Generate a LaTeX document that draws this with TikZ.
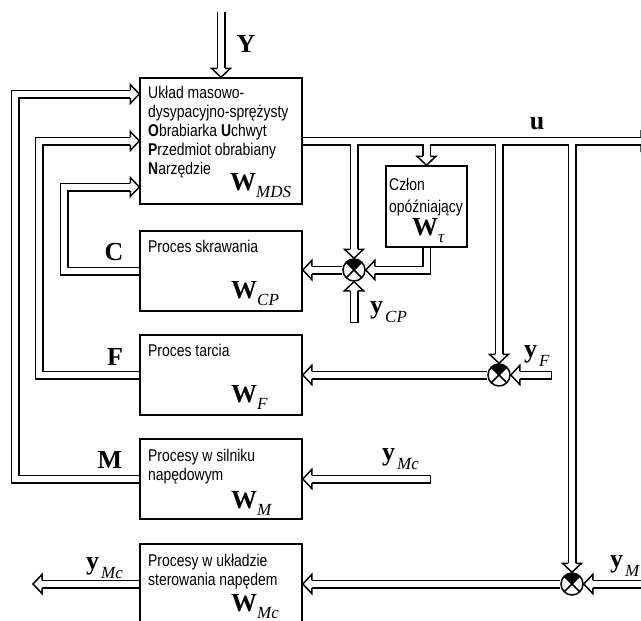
\documentclass[tikz,border=0pt]{standalone}
\usepackage{fontspec}
\setmainfont{Liberation Serif}
\newfontfamily\boxfont[FakeStretch=0.82]{Liberation Sans}
\pgfdeclarelayer{blk}
\pgfsetlayers{blk,main}
\newcommand\bW[1]{{\fontsize{26}{26}\selectfont\bfseries W}\raisebox{-7pt}{\fontsize{17}{17}\selectfont\itshape #1}}
\newcommand\bY[1]{{\fontsize{26}{26}\selectfont\bfseries y}\hspace{2pt}\raisebox{-9pt}{\fontsize{17}{17}\selectfont\itshape #1}}
% hollow (double) connector: black pass on a lower layer, white pass on main
\newcommand\hp[3]{%
  \begin{pgfonlayer}{blk}\draw[line width=9,line join=miter,#1] #3;\end{pgfonlayer}%
  \draw[line width=6,white,line join=miter,#1,#2] #3;}
\tikzset{
  pbox/.style={draw,line width=1.5,minimum width=162,minimum height=80,inner sep=0},
  txt/.style={font=\boxfont\fontsize{17}{19}\selectfont,inner sep=0,align=left},
  lbl/.style={font=\fontsize{26}{26}\selectfont\bfseries,inner sep=0},
  sublbl/.style={anchor=base west,inner sep=0},
  sumj/.style={circle,draw,line width=1.5,minimum size=22,inner sep=0,fill=white,
    path picture={
      \fill[black] (path picture bounding box.center) -- +(45:20) -- +(90:28) -- +(135:20) -- cycle;
      \draw[line width=1.5] (path picture bounding box.south west) -- (path picture bounding box.north east)
                            (path picture bounding box.north west) -- (path picture bounding box.south east);
    }},
  hh/.pic={\filldraw[fill=white,draw=black,line width=1.5,line join=miter]
     (-9,3.75) -- (-9,9.5) -- (0,0) -- (-9,-9.5) -- (-9,-3.75);}
}
\begin{document}
\begin{tikzpicture}[x=1pt,y=1pt]
\useasboundingbox (0,0) rectangle (641,-621);
\clip (0,0) rectangle (641,-621);
% blocks
\node[pbox,minimum height=126] (mds) at (221,-141) {};
\node[pbox] (cp) at (221,-271) {};
\node[pbox] (fr) at (221,-375) {};
\node[pbox] (mm) at (221,-479) {};
\node[pbox] (mc) at (221,-584) {};
\node[pbox,minimum width=81,minimum height=81] (tau) at (426.5,-206.5) {};
% summing junctions
\node[sumj] (s1) at (354,-270) {};
\node[sumj] (s2) at (499,-375) {};
\node[sumj] (s3) at (572,-584) {};
% free ends and corners
\coordinate (yt) at (221,-12);
\coordinate (ur) at (650,-141);
\coordinate (ycp) at (354,-323);
\coordinate (yf) at (552,-375);
\coordinate (ymci) at (431,-479);
\coordinate (ymr) at (650,-584);
\coordinate (ymco) at (33,-584);
\coordinate (kc) at (64,-187);
\coordinate (kf) at (39,-141);
\coordinate (km) at (15,-94);
% connectors
\hp{shorten >=9}{}{(yt) -- (mds.north)}
\hp{shorten >=9}{}{(mds.east) -- (ur)}
\hp{shorten >=9}{}{(s1.north |- mds.east) -- (s1.north)}
\hp{shorten >=9}{}{(tau.north |- mds.east) -- (tau.north)}
\hp{shorten >=9}{}{(s2.north |- mds.east) -- (s2.north)}
\hp{shorten >=9}{}{(s3.north |- mds.east) -- (s3.north)}
\hp{shorten >=9}{}{(tau.south) |- (s1.east)}
\hp{shorten >=9}{shorten <=1.5}{(ycp) -- (s1.south)}
\hp{shorten >=9}{}{(s1.west) -- (s1.west -| cp.east)}
\hp{shorten >=9}{shorten <=1.5}{(yf) -- (s2.east)}
\hp{shorten >=9}{}{(s2.west) -- (fr.east)}
\hp{shorten >=9}{shorten <=1.5}{(ymci) -- (mm.east)}
\hp{shorten >=9}{}{(ymr) -- (s3.east)}
\hp{shorten >=9}{}{(s3.west) -- (mc.east)}
\hp{shorten >=9}{}{(mc.west) -- (ymco)}
\hp{shorten >=9}{}{(cp.west) -| (kc) -- (kc -| mds.west)}
\hp{shorten >=9}{}{(fr.west) -| (kf) -- (kf -| mds.west)}
\hp{shorten >=9}{}{(mm.west) -| (km) -- (km -| mds.west)}
% arrow heads
\pic[rotate=-90] at (mds.north) {hh};
\pic at (ur) {hh};
\pic[rotate=-90] at (s1.north) {hh};
\pic[rotate=-90] at (tau.north) {hh};
\pic[rotate=-90] at (s2.north) {hh};
\pic[rotate=-90] at (s3.north) {hh};
\pic[rotate=180] at (s1.east) {hh};
\pic[rotate=90] at (s1.south) {hh};
\pic[rotate=180] at (s1.west -| cp.east) {hh};
\pic[rotate=180] at (s2.east) {hh};
\pic[rotate=180] at (fr.east) {hh};
\pic[rotate=180] at (mm.east) {hh};
\pic[rotate=180] at (s3.east) {hh};
\pic[rotate=180] at (mc.east) {hh};
\pic[rotate=180] at (ymco) {hh};
\pic at (kc -| mds.west) {hh};
\pic at (kf -| mds.west) {hh};
\pic at (km -| mds.west) {hh};
% block texts
\node[txt,anchor=north west] (tmds) at (148,-86) {Układ masowo-\\dysypacyjno-sprężysty\\\textbf{O}brabiarka \textbf{U}chwyt\\\textbf{P}rzedmiot obrabiany\\\textbf{N}arzędzie};
\node[sublbl] (wmds) at (230,-190) {\bW{MDS}};
\node[txt,anchor=north west,font=\boxfont\fontsize{17}{22}\selectfont] (ttau) at (389,-178) {Człon\\opóźniający};
\node[sublbl] (wtau) at (412,-235) {\bW{τ}};
\node[txt,anchor=north west] (tcp) at (148,-239.5) {Proces skrawania};
\node[sublbl] (wcp) at (231,-298) {\bW{CP}};
\node[txt,anchor=north west] (tfr) at (148,-344) {Proces tarcia};
\node[sublbl] (wfr) at (231,-402) {\bW{F}};
\node[txt,anchor=north west] (tmm) at (148,-449) {Procesy w silniku\\napędowym};
\node[sublbl] (wmm) at (231,-508) {\bW{M}};
\node[txt,anchor=north west] (tmc) at (148,-554) {Procesy w układzie\\sterowania napędem};
\node[sublbl] (wmc) at (231,-611) {\bW{Mc}};
% signal labels
\node[lbl] (ly) at (246,-44) {Y};
\node[lbl] (lu) at (537,-124) {u};
\node[lbl] (lc) at (114,-252) {C};
\node[lbl] (lf) at (115,-357) {F};
\node[lbl] (lm) at (110,-460) {M};
\node[sublbl] (lycp) at (370,-313) {\bY{CP}};
\node[sublbl] (lyf) at (524,-357) {\bY{F}};
\node[sublbl] (lymci) at (382,-460) {\bY{Mc}};
\node[sublbl] (lymco) at (86,-569) {\bY{Mc}};
\node[sublbl] (lym) at (610,-567) {\bY{M}};
\end{tikzpicture}
\end{document}
